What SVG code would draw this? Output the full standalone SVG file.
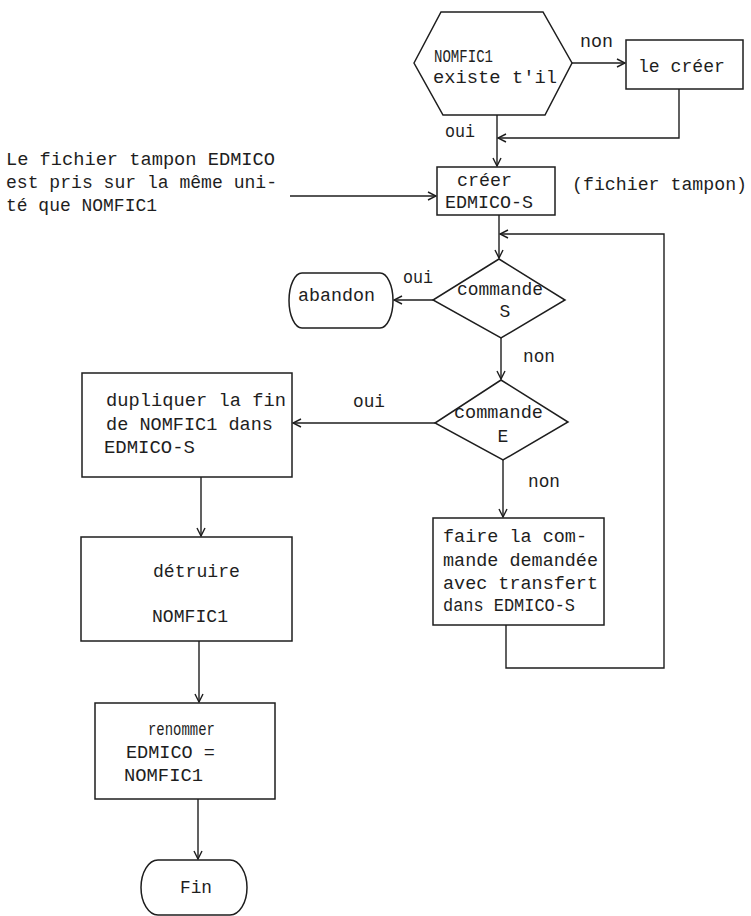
<svg xmlns="http://www.w3.org/2000/svg" width="751" height="916" viewBox="0 0 751 916">
<defs>
<style>
.bg{fill:#ffffff}
.shape{fill:none;stroke:#1e1e1e;stroke-width:1.5}
.line{fill:none;stroke:#1e1e1e;stroke-width:1.4}
text{font-family:"Liberation Mono","DejaVu Sans Mono",monospace;font-size:18px;fill:#1e1e1e}
</style>
<marker id="arr" viewBox="0 0 10 10" refX="9" refY="5" markerWidth="10" markerHeight="10" markerUnits="userSpaceOnUse" orient="auto">
<path d="M1,1 L9,5 L1,9" fill="none" stroke="#1e1e1e" stroke-width="1.4"/>
</marker>
</defs>
<rect class="bg" x="0" y="0" width="751" height="916"/>

<g id="note">
<text x="6" y="165" textLength="269" lengthAdjust="spacingAndGlyphs">Le fichier tampon EDMICO</text>
<text x="6" y="188" textLength="271" lengthAdjust="spacingAndGlyphs">est pris sur la même uni-</text>
<text x="6" y="211" textLength="151" lengthAdjust="spacingAndGlyphs">té que NOMFIC1</text>
</g>

<g id="n-exists">
<polygon class="shape" points="414,63 441,12 543,12 572,63 545,115 443,115"/>
<text x="434" y="62" textLength="59" lengthAdjust="spacingAndGlyphs">NOMFIC1</text>
<text x="433" y="83" textLength="124" lengthAdjust="spacingAndGlyphs">existe t'il</text>
</g>

<g id="n-lecreer">
<rect class="shape" x="626" y="40" width="117" height="49"/>
<text x="638" y="72" textLength="87" lengthAdjust="spacingAndGlyphs">le créer</text>
</g>

<g id="n-creer">
<rect class="shape" x="437" y="167" width="118" height="48"/>
<text x="457" y="186" textLength="55" lengthAdjust="spacingAndGlyphs">créer</text>
<text x="445" y="208" textLength="88" lengthAdjust="spacingAndGlyphs">EDMICO-S</text>
<text x="572" y="190" textLength="175" lengthAdjust="spacingAndGlyphs">(fichier tampon)</text>
</g>

<g id="n-cmdS">
<polygon class="shape" points="499,259 565,300 501,338 433,300"/>
<text x="457" y="295" textLength="86" lengthAdjust="spacingAndGlyphs">commande</text>
<text x="505" y="317" text-anchor="middle">S</text>
</g>

<g id="n-abandon">
<path class="shape" d="M302,273 H380 A13,27.5 0 0 1 380,328 H302 A13,27.5 0 0 1 302,273 Z"/>
<text x="298" y="301" textLength="77" lengthAdjust="spacingAndGlyphs">abandon</text>
</g>

<g id="n-cmdE">
<polygon class="shape" points="501,380 568,422 503,460 435,423"/>
<text x="454" y="418" textLength="89" lengthAdjust="spacingAndGlyphs">commande</text>
<text x="503" y="442" text-anchor="middle">E</text>
</g>

<g id="n-dupliquer">
<rect class="shape" x="82" y="373" width="210" height="104"/>
<text x="106" y="406" textLength="180" lengthAdjust="spacingAndGlyphs">dupliquer la fin</text>
<text x="106" y="430" textLength="167" lengthAdjust="spacingAndGlyphs">de NOMFIC1 dans</text>
<text x="104" y="453" textLength="91" lengthAdjust="spacingAndGlyphs">EDMICO-S</text>
</g>

<g id="n-detruire">
<rect class="shape" x="81" y="537" width="211" height="104"/>
<text x="153" y="577" textLength="87" lengthAdjust="spacingAndGlyphs">détruire</text>
<text x="152" y="622" textLength="76" lengthAdjust="spacingAndGlyphs">NOMFIC1</text>
</g>

<g id="n-renommer">
<rect class="shape" x="95" y="703" width="180" height="96"/>
<text x="148" y="735" textLength="67" lengthAdjust="spacingAndGlyphs">renommer</text>
<text x="126" y="758" textLength="89" lengthAdjust="spacingAndGlyphs">EDMICO =</text>
<text x="124" y="781" textLength="79" lengthAdjust="spacingAndGlyphs">NOMFIC1</text>
</g>

<g id="n-fin">
<path class="shape" d="M158,860 H230 A17,27.5 0 0 1 230,915 H158 A17,27.5 0 0 1 158,860 Z"/>
<text x="196" y="893" text-anchor="middle" textLength="32" lengthAdjust="spacingAndGlyphs">Fin</text>
</g>

<g id="n-faire">
<rect class="shape" x="433" y="518" width="171" height="107"/>
<text x="443" y="542" textLength="144" lengthAdjust="spacingAndGlyphs">faire la com-</text>
<text x="443" y="566" textLength="155" lengthAdjust="spacingAndGlyphs">mande demandée</text>
<text x="443" y="589" textLength="155" lengthAdjust="spacingAndGlyphs">avec transfert</text>
<text x="443" y="611" textLength="132" lengthAdjust="spacingAndGlyphs">dans EDMICO-S</text>
</g>

<g id="connectors">
<line class="line" x1="572" y1="63" x2="625" y2="63" marker-end="url(#arr)"/>
<polyline class="line" points="679,89 679,138 498,138" marker-end="url(#arr)"/>
<line class="line" x1="497" y1="115" x2="497" y2="166" marker-end="url(#arr)"/>
<line class="line" x1="290" y1="196" x2="436" y2="196" marker-end="url(#arr)"/>
<line class="line" x1="499" y1="215" x2="499" y2="258" marker-end="url(#arr)"/>
<polyline class="line" points="506,625 506,668 664,668 664,234 500,234" marker-end="url(#arr)"/>
<line class="line" x1="433" y1="300" x2="394" y2="300" marker-end="url(#arr)"/>
<line class="line" x1="501" y1="338" x2="501" y2="379" marker-end="url(#arr)"/>
<line class="line" x1="435" y1="423" x2="293" y2="423" marker-end="url(#arr)"/>
<line class="line" x1="503" y1="460" x2="503" y2="517" marker-end="url(#arr)"/>
<line class="line" x1="201" y1="477" x2="201" y2="536" marker-end="url(#arr)"/>
<line class="line" x1="199" y1="641" x2="199" y2="702" marker-end="url(#arr)"/>
<line class="line" x1="198" y1="799" x2="198" y2="859" marker-end="url(#arr)"/>
<text x="580" y="47" textLength="33" lengthAdjust="spacingAndGlyphs">non</text>
<text x="445" y="137" textLength="30" lengthAdjust="spacingAndGlyphs">oui</text>
<text x="403" y="283" textLength="30" lengthAdjust="spacingAndGlyphs">oui</text>
<text x="523" y="362" textLength="32" lengthAdjust="spacingAndGlyphs">non</text>
<text x="353" y="407" textLength="32" lengthAdjust="spacingAndGlyphs">oui</text>
<text x="528" y="487" textLength="32" lengthAdjust="spacingAndGlyphs">non</text>
</g>
</svg>
